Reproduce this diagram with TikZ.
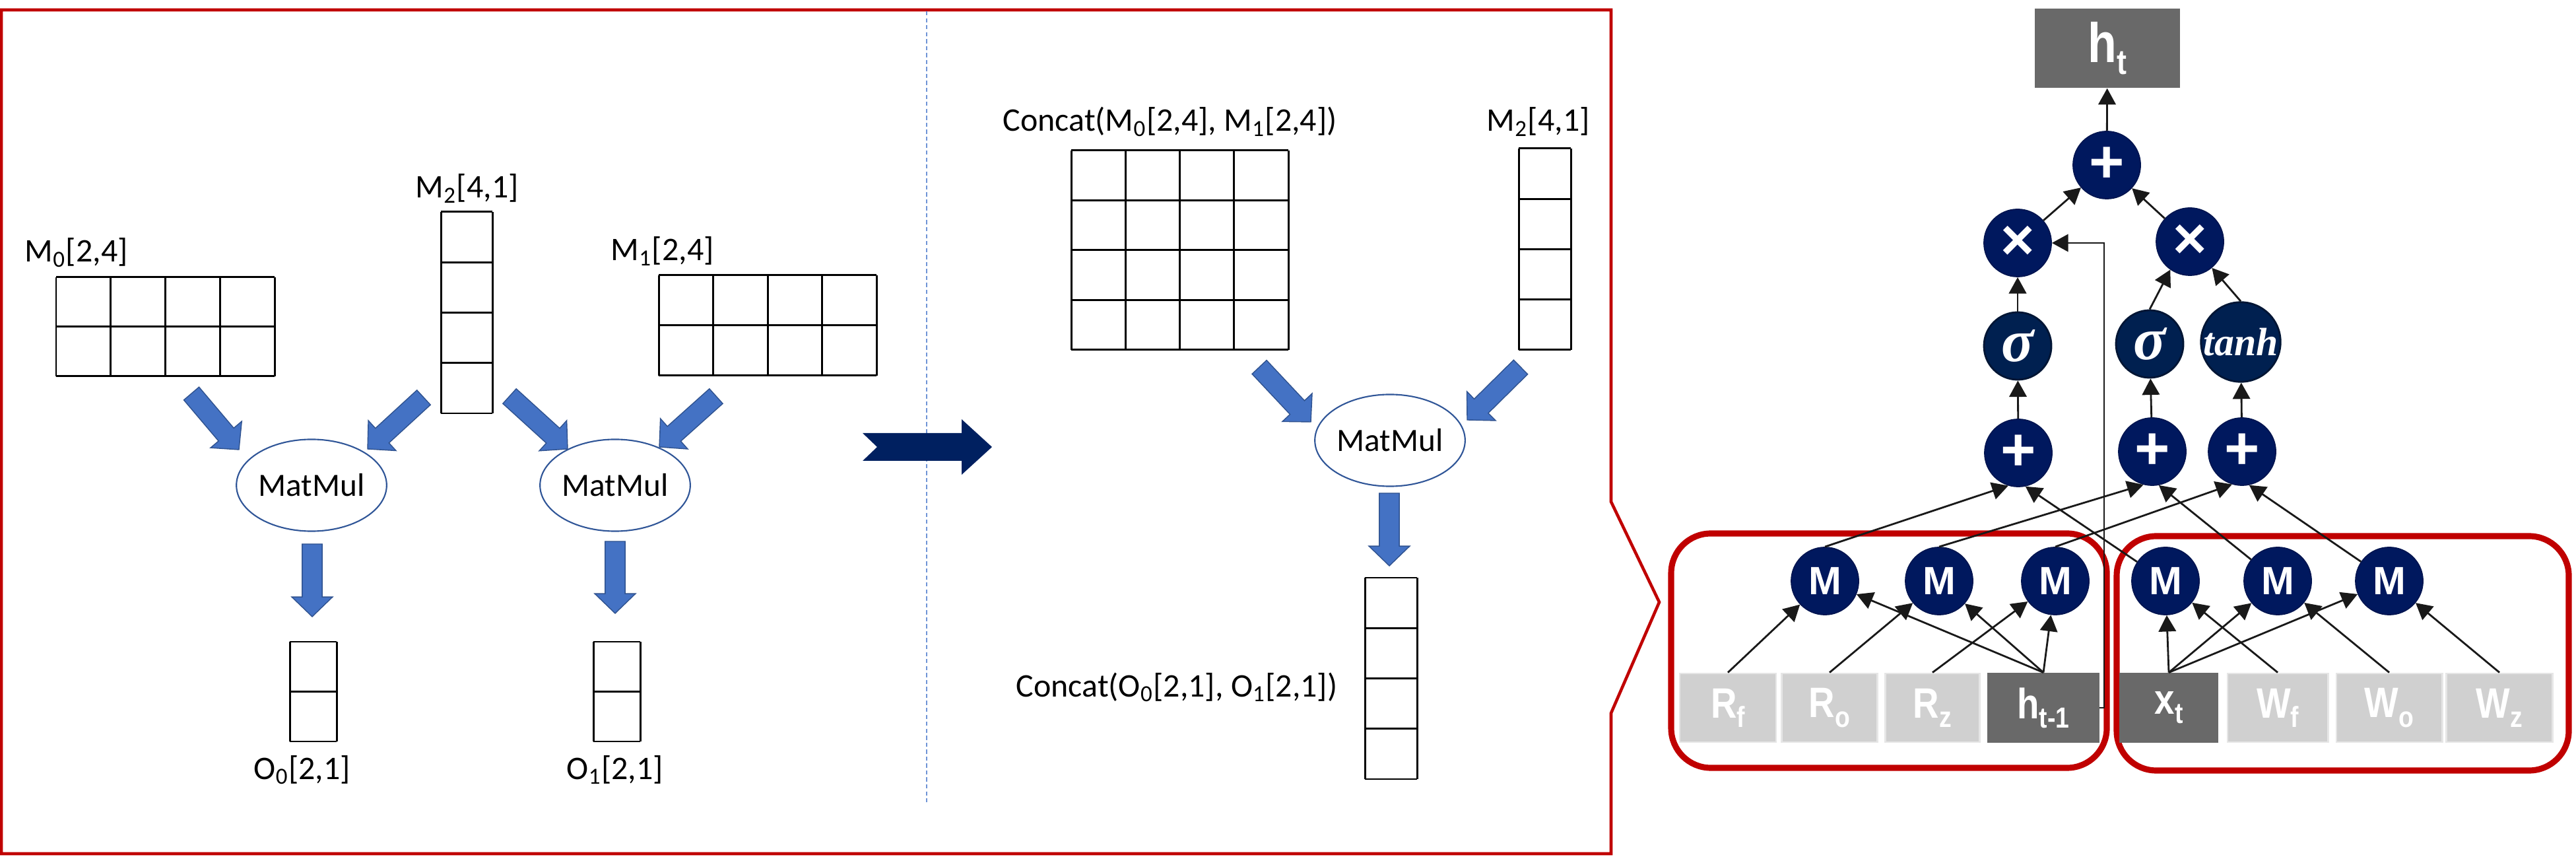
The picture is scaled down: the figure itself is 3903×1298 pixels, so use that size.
\documentclass[tikz,border=0pt]{standalone}
\usepackage{fontspec}
\usetikzlibrary{calc,arrows.meta,shapes.geometric}

\newfontfamily\calfont{Carlito}
\newfontfamily\lblfont[FakeStretch=0.85]{Liberation Sans}
\newfontfamily\symfont{Liberation Sans}
\newfontfamily\gatefont{Liberation Serif}

\definecolor{framered}{HTML}{C00000}
\definecolor{arrblue}{HTML}{4472C4}
\definecolor{arrline}{HTML}{2F528F}
\definecolor{ellline}{HTML}{2F5597}
\definecolor{divblue}{HTML}{6F94D6}
\definecolor{arrownavy}{HTML}{002060}
\definecolor{opnavy}{HTML}{00185E}
\definecolor{actnavy}{HTML}{002050}
\definecolor{lightbox}{HTML}{D0D0D0}
\definecolor{lightedge}{HTML}{E6E6E6}
\definecolor{darkbox}{HTML}{696969}

% grid of cells: left, top, columns, rows, cell width, cell height
\newcommand{\cellgrid}[6]{%
  \foreach \c in {0,...,#3}
    \draw[cellline] ({#1+\c*#5},#2) -- ({#1+\c*#5},{#2+#4*#6});
  \foreach \r in {0,...,#4}
    \draw[cellline] (#1,{#2+\r*#6}) -- ({#1+#3*#5},{#2+\r*#6});
}

% fat blue arrow from #1 to #2
\newcommand{\blockarrow}[2]{%
  \filldraw[blockarr] let \p1=#1, \p2=#2,
    \n1={atan2(\y2-\y1,\x2-\x1)}, \n2={veclen(\x2-\x1,\y2-\y1)-8.5pt} in
    (\p1) ++(\n1+90:4.3pt) -- ++(\n1:\n2) -- ++(\n1+90:4.5pt) -- (\p2)
    -- ++(\n1+226:12.24pt) -- ++(\n1+90:4.5pt) -- ++(\n1+180:\n2) -- cycle;
}

% label with lowered index
\newcommand{\lblsub}[2]{#1\raisebox{-0.22em}{\fontsize{12.5}{13}\selectfont #2}}

\tikzset{
  cellline/.style={line width=0.85pt, black},
  matlabel/.style={font=\calfont\fontsize{14.2}{17}\selectfont, inner sep=0pt},
  matmul/.style={ellipse, draw=ellline, line width=0.6pt, minimum width=21.5mm,
    minimum height=13.9mm, inner sep=0pt, font=\calfont\fontsize{14}{17}\selectfont},
  blockarr/.style={fill=arrblue, draw=arrline, line width=0.4pt},
  opnode/.style={circle, fill=opnavy, draw=opnavy!85!black, line width=0.5pt,
    minimum size=10.2mm, inner sep=0pt, text=white},
  actnode/.style={opnode, fill=actnavy, draw=actnavy!65!black, line width=0.8pt},
  mnode/.style={opnode, font=\symfont\bfseries\fontsize{17}{17}\selectfont},
  addnode/.style={opnode, font=\symfont\bfseries\fontsize{26}{26}\selectfont},
  mulnode/.style={opnode, font=\symfont\bfseries\fontsize{25}{25}\selectfont},
  signode/.style={actnode, font=\gatefont\bfseries\itshape\fontsize{26}{26}\selectfont},
  tanhnode/.style={actnode, font=\gatefont\bfseries\itshape\fontsize{17}{17}\selectfont},
  inbox/.style={rectangle, minimum height=10.4mm, inner sep=0pt, line width=0.8pt,
    text=white, font=\lblfont\bfseries\fontsize{18.3}{20}\selectfont},
  link/.style={-{Triangle[length=7pt,width=7.5pt]}, line width=0.8pt, draw=black!90},
  groupbox/.style={draw=framered, line width=2.6pt, rounded corners=6mm},
}

\begin{document}
\begin{tikzpicture}[x=0.01cm, y=-0.01cm]
\useasboundingbox (0,0) rectangle (3903,1298);

% frame with callout
\draw[framered, line width=1.3pt] (2,15) -- (2441,15) -- (2441,760) -- (2514,912)
  -- (2441,1080) -- (2441,1293) -- (2,1293) -- cycle;
\draw[divblue, line width=0.5pt, dash pattern=on 1.8pt off 1.2pt] (1404,17) -- (1404,1216);

% split matmul
\cellgrid{85}{420}{4}{2}{82.75}{75}
\cellgrid{668}{321}{1}{4}{78}{76.25}
\cellgrid{998}{417}{4}{2}{82.5}{76}
\cellgrid{439}{972}{1}{2}{71}{75.5}
\cellgrid{899}{972}{1}{2}{71}{75.5}
\node[matlabel, anchor=base west] (lblm0) at (37,397) {M\textsubscript{0}[2,4]};
\node[matlabel, anchor=base west] (lblm2) at (629,300) {M\textsubscript{2}[4,1]};
\node[matlabel, anchor=base west] (lblm1) at (925,395) {M\textsubscript{1}[2,4]};
\node[matlabel, anchor=base west] (lblo0) at (384,1180) {O\textsubscript{0}[2,1]};
\node[matlabel, anchor=base west] (lblo1) at (858,1180) {O\textsubscript{1}[2,1]};
\node[matmul] (mm0) at (472,735) {MatMul};
\node[matmul] (mm1) at (932,735) {MatMul};
\blockarrow{(290,596)}{(362,681)}
\blockarrow{(642,602)}{(557,680)}
\blockarrow{(772,600)}{(860,680)}
\blockarrow{(1085,600)}{(999,677)}
\blockarrow{(473,824)}{(473,934)}
\blockarrow{(932,820)}{(932,929)}

% transform arrow
\fill[arrownavy] (1307,656) -- (1457,656) -- (1457,635) -- (1503,677) -- (1457,719)
  -- (1457,698) -- (1307,698) -- (1329,677) -- cycle;

% merged matmul
\cellgrid{1623}{228}{4}{4}{82.25}{75.5}
\cellgrid{2301}{225}{1}{4}{79}{76.25}
\cellgrid{2068}{875}{1}{4}{79}{76.25}
\node[matlabel, anchor=base west] (lblcat) at (1519,199) {Concat(M\textsubscript{0}[2,4], M\textsubscript{1}[2,4])};
\node[matlabel, anchor=base west] (lblm2b) at (2252,199) {M\textsubscript{2}[4,1]};
\node[matlabel, anchor=base west] (lblout) at (1539,1055) {Concat(O\textsubscript{0}[2,1], O\textsubscript{1}[2,1])};
\node[matmul] (mm2) at (2106,667) {MatMul};
\blockarrow{(1908,556)}{(1986,639)}
\blockarrow{(2304,556)}{(2223,636)}
\blockarrow{(2105,747)}{(2105,857)}

% cell graph
\draw[groupbox] (2532,808) rectangle (3192,1163);
\draw[groupbox] (3207,812) rectangle (3892,1167);

\foreach \x/\w/\col/\edge/\nm/\base/\idx in {
    2618/14.6/lightbox/lightedge/rf/R/f, 2772/14.5/lightbox/lightedge/ro/R/o,
    2928/14.3/lightbox/lightedge/rz/R/z, 3096/16.7/darkbox/darkbox/htm/h/t-1,
    3286/14.7/darkbox/darkbox/xt/x/t, 3451/15.2/lightbox/lightedge/wf/W/f,
    3620/16.0/lightbox/lightedge/wo/W/o, 3787/16.1/lightbox/lightedge/wz/W/z}
  \node[inbox, fill=\col, draw=\edge, minimum width=\w mm] (\nm) at (\x,1072) {\lblsub{\base}{\idx}};

\foreach \x [count=\i] in {2765,2938,3114,3281,3451,3620}
  \node[mnode] (m\i) at (\x,880) {M};

\node[addnode] (addf) at (3058,686) {+};
\node[addnode] (addo) at (3261,684) {+};
\node[addnode] (addz) at (3397,684) {+};
\node[signode] (sigf) at (3057,524) {σ};
\node[signode] (sigo) at (3257,521) {σ};
\node[tanhnode] (tanhz) at (3395,518) {tanh};
\node[mulnode] (mulf) at (3057,368) {×};
\node[mulnode] (mulo) at (3318,366) {×};
\node[addnode] (addh) at (3192,250) {+};
\node[rectangle, fill=darkbox, minimum width=22mm, minimum height=12mm, inner sep=0pt,
  text=white, font=\lblfont\bfseries\fontsize{24}{24}\selectfont] (ht) at (3193,73)
  {h\raisebox{-0.21em}{\fontsize{15}{15}\selectfont t}};

\foreach \a/\b in {rf/m1, ro/m2, rz/m3, htm/m1, htm/m2, htm/m3,
    xt/m4, xt/m5, xt/m6, wf/m4, wo/m5, wz/m6}
  \draw[link] (\a.north) -- (\b);

\draw[link] (m1.north) -- (addf.253);
\draw[link] (m2.north) -- (addo.255);
\draw[link] (m3.north) -- (addz.253);
\draw[link] (m4) -- (addf.282);
\draw[link] (m5) -- (addo.281);
\draw[link] (m6) -- (addz.282);

\draw[link] (addf) -- (sigf);
\draw[link] (addo) -- (sigo);
\draw[link] (addz) -- (tanhz);
\draw[link] (sigf) -- (mulf);
\draw[link] (sigo.north) -- (mulo.235);
\draw[link] (tanhz.north) -- (mulo.310);
\draw[link] (mulf) -- (addh);
\draw[link] (mulo) -- (addh);
\draw[link] (addh) -- (ht);
\draw[link, line width=0.7pt] (htm.east) -- ++(7,0) |- (mulf.east);

\end{tikzpicture}
\end{document}
